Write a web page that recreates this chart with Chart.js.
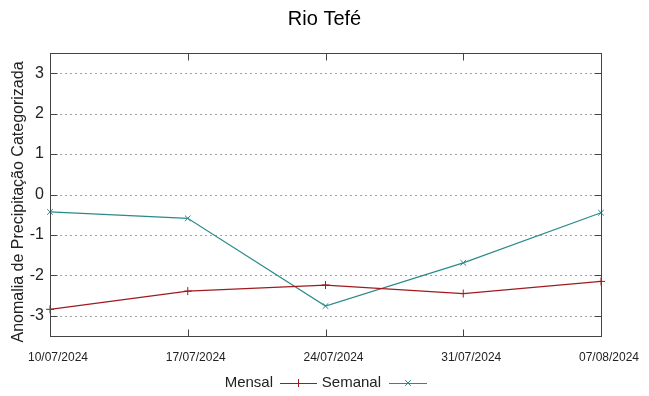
<!DOCTYPE html>
<html>
<head>
<meta charset="utf-8">
<script src="https://cdn.jsdelivr.net/npm/chart.js@4/dist/chart.umd.min.js"></script>
<style>
  html, body { margin: 0; padding: 0; background: #fff; }
  #wrap { width: 649px; height: 396px; }
</style>
</head>
<body>
<div id="wrap"><canvas id="chuva" width="649" height="396"></canvas></div>
<script>
var datas = ['10/07/2024', '17/07/2024', '24/07/2024', '31/07/2024', '07/08/2024'];
var mensal = [-2.84, -2.39, -2.24, -2.45, -2.15];
var semanal = [-0.43, -0.59, -2.76, -1.69, -0.45];
var yTicks = [-3, -2, -1, 0, 1, 2, 3];

var corMensal = '#a11a1f';
var corSemanal = '#2a8a8a';
var fonte = '"Liberation Sans", Arial, sans-serif';

// desenha titulo, moldura, marcas internas e legenda no estilo gnuplot
var gnuplotStyle = {
  id: 'gnuplotStyle',
  beforeDatasetsDraw: function(chart) {
    var ctx = chart.ctx, a = chart.chartArea;
    var ys = chart.scales.y;
    ctx.save();
    // grade pontilhada
    ctx.strokeStyle = '#a0a0a0';
    ctx.lineWidth = 1;
    ctx.setLineDash([2, 3]);
    yTicks.forEach(function(v) {
      var y = Math.round(ys.getPixelForValue(v)) + 0.5;
      ctx.beginPath(); ctx.moveTo(a.left, y); ctx.lineTo(a.right, y); ctx.stroke();
    });
    ctx.setLineDash([]);
    ctx.restore();
  },
  afterDraw: function(chart) {
    var ctx = chart.ctx, a = chart.chartArea;
    var xs = chart.scales.x, ys = chart.scales.y;
    var L = Math.round(a.left) + 0.5, R = Math.round(a.right) + 0.5;
    var T = Math.round(a.top) + 0.5, B = Math.round(a.bottom) + 0.5;
    ctx.save();
    ctx.strokeStyle = '#444';
    ctx.lineWidth = 1;
    ctx.strokeRect(L, T, R - L, B - T);
    // marcas internas
    yTicks.forEach(function(v) {
      var y = Math.round(ys.getPixelForValue(v)) + 0.5;
      ctx.beginPath();
      ctx.moveTo(L, y); ctx.lineTo(L + 7, y);
      ctx.moveTo(R, y); ctx.lineTo(R - 7, y);
      ctx.stroke();
    });
    datas.forEach(function(d, i) {
      var x = Math.round(xs.getPixelForValue(i)) + 0.5;
      if (i === 0 || i === datas.length - 1) return;
      ctx.beginPath();
      ctx.moveTo(x, B); ctx.lineTo(x, B - 7);
      ctx.moveTo(x, T); ctx.lineTo(x, T + 7);
      ctx.stroke();
    });
    // titulo
    ctx.fillStyle = '#000';
    ctx.font = '20px ' + fonte;
    ctx.textAlign = 'center';
    ctx.textBaseline = 'middle';
    ctx.fillText('Rio Tefé', 324.5, 19);
    // titulo do eixo y
    ctx.save();
    ctx.fillStyle = '#222';
    ctx.font = '16px ' + fonte;
    ctx.translate(19, 202);
    ctx.rotate(-Math.PI / 2);
    ctx.fillText('Anomalia de Precipitação Categorizada', 0, 0);
    ctx.restore();
    // legenda
    var ly = 383;
    ctx.font = '15px ' + fonte;
    ctx.fillStyle = '#222';
    ctx.textAlign = 'right';
    ctx.fillText('Mensal', 273, ly);
    ctx.fillText('Semanal', 381, ly);
    function amostra(x0, x1, cor, rot) {
      ctx.strokeStyle = cor;
      ctx.beginPath(); ctx.moveTo(x0, ly + 0.5); ctx.lineTo(x1, ly + 0.5); ctx.stroke();
      var cx = (x0 + x1) / 2, r = 4;
      ctx.beginPath();
      if (rot) {
        ctx.moveTo(cx - r * 0.7, ly - r * 0.7); ctx.lineTo(cx + r * 0.7, ly + r * 0.7);
        ctx.moveTo(cx - r * 0.7, ly + r * 0.7); ctx.lineTo(cx + r * 0.7, ly - r * 0.7);
      } else {
        ctx.moveTo(cx, ly - r); ctx.lineTo(cx, ly + r);
      }
      ctx.stroke();
    }
    amostra(280, 317, corMensal, false);
    amostra(389, 427, corSemanal, true);
    ctx.restore();
  }
};

var ctx = document.getElementById('chuva').getContext('2d');
new Chart(ctx, {
  type: 'line',
  data: {
    labels: datas,
    datasets: [
      {
        label: 'Mensal',
        data: mensal,
        borderColor: corMensal,
        backgroundColor: corMensal,
        borderWidth: 1.2,
        pointStyle: 'cross',
        pointRadius: 4,
        pointBorderWidth: 1,
        tension: 0
      },
      {
        label: 'Semanal',
        data: semanal,
        borderColor: corSemanal,
        backgroundColor: corSemanal,
        borderWidth: 1.2,
        pointStyle: 'crossRot',
        pointRadius: 4,
        pointBorderWidth: 1,
        tension: 0
      }
    ]
  },
  options: {
    responsive: false,
    animation: false,
    clip: false,
    layout: { padding: { top: 53, right: 48, bottom: 30, left: 0 } },
    plugins: {
      legend: { display: false },
      title: { display: false },
      tooltip: { enabled: false }
    },
    scales: {
      x: {
        type: 'category',
        offset: false,
        grid: { display: false, drawTicks: false },
        border: { display: false },
        ticks: {
          color: '#222',
          font: { family: fonte, size: 12 },
          maxRotation: 0,
          autoSkip: false,
          labelOffset: 8,
          padding: 14
        },
        afterFit: function(s) { s.height = 30; }
      },
      y: {
        min: -3.5,
        max: 3.5,
        grid: { display: false, drawTicks: false },
        border: { display: false },
        afterBuildTicks: function(s) { s.ticks = yTicks.map(function(v) { return { value: v }; }); },
        ticks: {
          color: '#222',
          font: { family: fonte, size: 16 },
          padding: 6
        },
        afterFit: function(s) { s.width = 50; }
      }
    }
  },
  plugins: [gnuplotStyle]
});
</script>
</body>
</html>
